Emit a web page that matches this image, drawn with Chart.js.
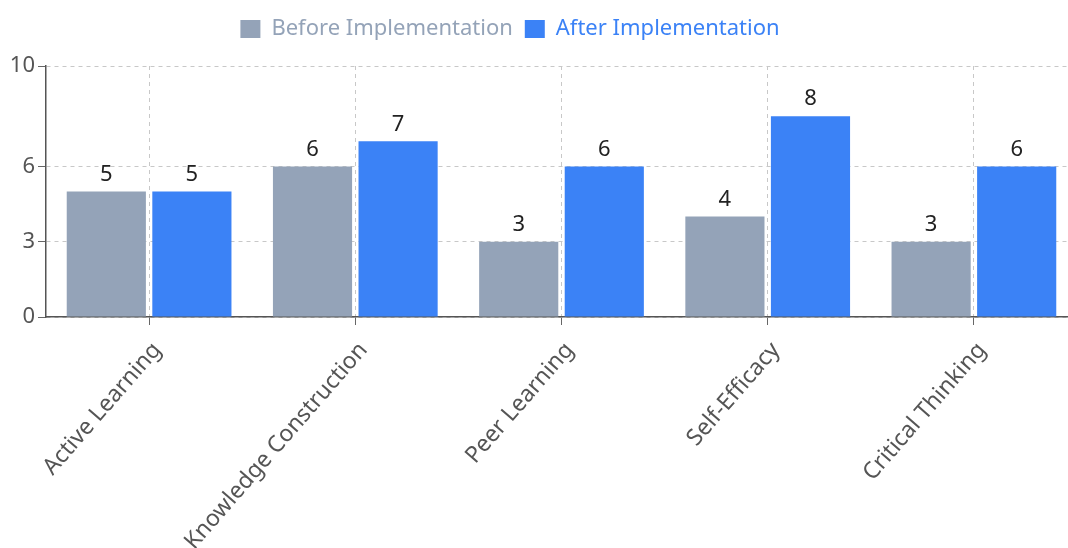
<!DOCTYPE html>
<html>
<head>
<meta charset="utf-8">
<script src="https://cdn.jsdelivr.net/npm/chart.js@4.4.1/dist/chart.umd.min.js"></script>
<style>
  html, body { margin: 0; padding: 0; background: #fff; overflow: hidden; }
  #wrap { position: absolute; left: -57px; top: 0; width: 1134px; height: 548px; }
</style>
</head>
<body>
<div id="wrap"><canvas id="skillsChart"></canvas></div>
<script>
// chart data
const categories = ['Active Learning', 'Knowledge Construction', 'Peer Learning', 'Self-Efficacy', 'Critical Thinking'];
const beforeValues = [5, 6, 3, 4, 3];
const afterValues = [5, 7, 6, 8, 6];
const yTicks = [0, 3, 6, 10];

const FONT = '"Noto Sans", "Open Sans", sans-serif';
const GRAY = '#94a3b8';
const BLUE = '#3b82f6';

// draws the value above each bar
const valueLabels = {
    id: 'valueLabels',
    afterDatasetsDraw(chart) {
        const ctx = chart.ctx;
        ctx.save();
        ctx.font = '22px ' + FONT;
        ctx.fillStyle = '#222';
        ctx.textAlign = 'center';
        ctx.textBaseline = 'bottom';
        chart.data.datasets.forEach((ds, i) => {
            chart.getDatasetMeta(i).data.forEach((bar, j) => {
                ctx.fillText(ds.data[j], bar.x, bar.y - 6);
            });
        });
        ctx.restore();
    }
};

// a bit more room under the legend
const legendGap = {
    id: 'legendGap',
    beforeInit(chart) {
        const fit = chart.legend.fit;
        chart.legend.fit = function() {
            fit.bind(chart.legend)();
            this.height += 16;
        };
    }
};

new Chart(document.getElementById('skillsChart'), {
    type: 'bar',
    data: {
        labels: categories,
        datasets: [
            { label: 'Before Implementation', data: beforeValues, backgroundColor: GRAY },
            { label: 'After Implementation', data: afterValues, backgroundColor: BLUE }
        ]
    },
    options: {
        responsive: true,
        maintainAspectRatio: false,
        animation: false,
        datasets: { bar: { categoryPercentage: 0.83, barPercentage: 0.925 } },
        layout: { padding: { left: 0, right: 0, top: 6, bottom: 0 } },
        plugins: {
            tooltip: { enabled: false },
            legend: {
                position: 'top',
                labels: {
                    font: { family: FONT, size: 22 },
                    boxWidth: 20,
                    boxHeight: 18,
                    padding: 12,
                    generateLabels(chart) {
                        const items = Chart.defaults.plugins.legend.labels.generateLabels(chart);
                        items.forEach(it => { it.fontColor = it.fillStyle; it.lineWidth = 0; });
                        return items;
                    }
                }
            }
        },
        scales: {
            x: {
                afterFit(axis) { axis.height = 231; },
                grid: {
                    offset: false,
                    color: '#c8c8c8',
                    tickColor: '#666',
                    tickLength: 8
                },
                border: { color: '#555', width: 1.5, dash: [4, 4] },
                ticks: {
                    font: { family: FONT, size: 23 },
                    color: '#555',
                    maxRotation: 49,
                    minRotation: 49,
                    padding: 12,
                    labelOffset: 8
                }
            },
            y: {
                min: 0,
                max: 10,
                afterFit(axis) { axis.width = 103; },
                afterBuildTicks(axis) {
                    axis.ticks = yTicks.map(v => ({ value: v }));
                },
                grid: {
                    color: '#c8c8c8',
                    tickColor: '#666',
                    tickLength: 8
                },
                border: { color: '#555', width: 1.5, dash: [4, 4] },
                ticks: {
                    font: { family: FONT, size: 22 },
                    color: '#555',
                    padding: 3
                }
            }
        }
    },
    plugins: [valueLabels, legendGap]
});
</script>
</body>
</html>
